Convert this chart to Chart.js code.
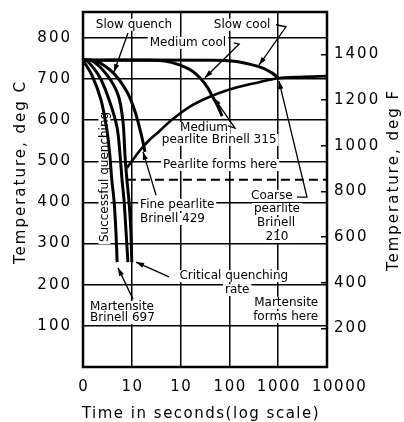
<!DOCTYPE html>
<html>
<head>
<meta charset="utf-8">
<script src="https://cdn.jsdelivr.net/npm/chart.js@4.4.1/dist/chart.umd.min.js"></script>
<style>
  html, body { margin: 0; padding: 0; background: #fff; }
  #wrap { width: 404px; height: 422px; }
</style>
</head>
<body>
<div id="wrap"><canvas id="c"></canvas></div>
<script>
'use strict';

// ── Axes ─────────────────────────────────────────────────────────────────────
const xTickLabels = ['0', '10', '10', '100', '1000', '10000'];
const xTickPos = [0, 1, 2, 3, 4, 5];
const cTicks = [100, 200, 300, 400, 500, 600, 700, 800];
const fTicks = [200, 400, 600, 800, 1000, 1200, 1400];
const cMin = 0, cMax = 863;

// ── Curves: time position (axis units) and temperature (deg C) ──────────────
const slowCoolX = [0, 2.7, 3.1, 3.45, 3.7, 3.87, 4.0];
const slowCoolT = [746, 746, 743, 735, 726, 715, 703];

const mediumCoolX = [0, 1.37, 1.68, 1.99, 2.23, 2.42, 2.56, 2.66, 2.77, 2.85];
const mediumCoolT = [746, 746, 744, 734, 720, 700, 678, 656, 632, 610];

const pearliteX = [0.90, 1.17, 1.37, 1.58, 1.78, 2.19, 2.66, 3.16, 3.63, 4.0, 4.45, 5];
const pearliteT = [484, 527, 553, 575, 597, 633, 660, 680, 693, 702, 705, 707];

const quenchAX = [0, 0.18, 0.37, 0.49, 0.55, 0.59, 0.635, 0.675, 0.70];
const quenchAT = [746, 710, 649, 576, 515, 455, 406, 328, 255];

const quenchBX = [0, 0.08, 0.35, 0.55, 0.70, 0.76, 0.80, 0.84, 0.88, 0.92];
const quenchBT = [746, 745, 703, 644, 581, 515, 455, 406, 333, 255];

const quenchCX = [0, 0.18, 0.49, 0.72, 0.82, 0.86, 0.90, 0.94, 0.98, 1.0];
const quenchCT = [746, 745, 710, 661, 596, 515, 455, 406, 333, 255];

const slowQuenchX = [0, 0.25, 0.62, 0.90, 1.07, 1.21, 1.27];
const slowQuenchT = [746, 745, 715, 669, 620, 557, 523];

const bainiteLineX = [0.9, 5];
const bainiteLineT = [455, 455];

// ── Labels (axis units / deg C) ─────────────────────────────────────────────
const notes = [
  { text: 'Slow quench', x: 1.045, t: 832, align: 'center' },
  { text: 'Medium cool', x: 2.15, t: 788, align: 'center' },
  { text: 'Slow cool', x: 3.26, t: 832, align: 'center' },
  { text: 'Medium', x: 2.48, t: 581, align: 'center' },
  { text: 'pearlite Brinell 315', x: 2.79, t: 552, align: 'center' },
  { text: 'Pearlite forms here', x: 2.81, t: 491, align: 'center' },
  { text: 'Coarse', x: 3.87, t: 416, align: 'center' },
  { text: 'pearlite', x: 3.975, t: 384, align: 'center' },
  { text: 'Brinell', x: 3.955, t: 350, align: 'center' },
  { text: '210', x: 3.975, t: 316, align: 'center' },
  { text: 'Fine pearlite', x: 1.17, t: 394, align: 'left' },
  { text: 'Brinell 429', x: 1.17, t: 360, align: 'left' },
  { text: 'Successful quenching', x: 0.44, t: 462, align: 'center', rotate: true },
  { text: 'Critical quenching', x: 3.09, t: 221, align: 'center' },
  { text: 'rate', x: 3.16, t: 187, align: 'center' },
  { text: 'Martensite', x: 0.143, t: 146, align: 'left' },
  { text: 'Brinell 697', x: 0.143, t: 119, align: 'left' },
  { text: 'Martensite', x: 4.82, t: 156, align: 'right' },
  { text: 'forms here', x: 4.82, t: 122, align: 'right' }
];

const arrows = [
  { x: [0.922, 0.635], t: [812, 717] },
  { x: [3.09, 3.2, 2.5], t: [788, 785, 703] },
  { x: [3.955, 4.16, 3.607], t: [832, 827, 734] },
  { x: [2.97, 3.115, 2.684], t: [586, 581, 654] },
  { x: [4.385, 4.59, 4.016], t: [413, 413, 695] },
  { x: [1.496, 1.23], t: [418, 523] },
  { x: [1.762, 1.086], t: [219, 255] },
  { x: [1.025, 0.717], t: [165, 241] }
];

const FONT = "'DejaVu Sans', sans-serif";
const NOTE_FONT = "12px " + FONT;

function pts(xs, ts) { return xs.map((x, i) => ({ x: x, y: ts[i] })); }

const curve = { borderColor: '#000', borderWidth: 3, pointRadius: 0, fill: false, tension: 0.3 };

const datasets = [
  Object.assign({ label: 'Slow cool', data: pts(slowCoolX, slowCoolT) }, curve),
  Object.assign({ label: 'Medium cool', data: pts(mediumCoolX, mediumCoolT) }, curve),
  Object.assign({ label: 'Pearlite start', data: pts(pearliteX, pearliteT) }, curve, { borderWidth: 2.6 }),
  Object.assign({ label: 'Quench A', data: pts(quenchAX, quenchAT) }, curve),
  Object.assign({ label: 'Quench B', data: pts(quenchBX, quenchBT) }, curve),
  Object.assign({ label: 'Quench C', data: pts(quenchCX, quenchCT) }, curve),
  Object.assign({ label: 'Slow quench', data: pts(slowQuenchX, slowQuenchT) }, curve),
  { label: 'Dashed', data: pts(bainiteLineX, bainiteLineT), borderColor: '#000', borderWidth: 2,
    borderDash: [9, 5], pointRadius: 0, tension: 0 }
];

function notePos(chart, n) {
  return { px: chart.scales.x.getPixelForValue(n.x), py: chart.scales.y.getPixelForValue(n.t) };
}

function drawArrow(c, p) {
  c.beginPath();
  c.moveTo(p[0][0], p[0][1]);
  for (let i = 1; i < p.length; i++) c.lineTo(p[i][0], p[i][1]);
  c.stroke();
  const [x1, y1] = p[p.length - 2], [x2, y2] = p[p.length - 1];
  const a = Math.atan2(y2 - y1, x2 - x1);
  const L = 8, W = 2.6;
  c.beginPath();
  c.moveTo(x2, y2);
  c.lineTo(x2 - L * Math.cos(a) + W * Math.sin(a), y2 - L * Math.sin(a) - W * Math.cos(a));
  c.lineTo(x2 - L * Math.cos(a) - W * Math.sin(a), y2 - L * Math.sin(a) + W * Math.cos(a));
  c.closePath();
  c.fill();
}

function drawRotated(c, text, x, y) {
  c.save();
  c.translate(x, y);
  c.rotate(-Math.PI / 2);
  c.textAlign = 'center';
  c.textBaseline = 'middle';
  c.fillText(text, 0, 0);
  c.restore();
}

const figure = {
  id: 'figure',
  beforeDraw(chart) {
    const c = chart.ctx;
    c.save();
    c.fillStyle = '#fff';
    c.fillRect(0, 0, chart.width, chart.height);
    c.restore();
    c.letterSpacing = '2px';
  },
  // white boxes behind labels break the grid lines, as in the print
  beforeDatasetsDraw(chart) {
    const c = chart.ctx;
    c.save();
    c.letterSpacing = '0px';
    c.font = NOTE_FONT;
    c.fillStyle = '#fff';
    notes.forEach(n => {
      const { px, py } = notePos(chart, n);
      const w = c.measureText(n.text).width + 4;
      const h = 12;
      if (n.rotate) { c.fillRect(px - h / 2, py - w / 2, h, w); return; }
      let x0 = px - w / 2;
      if (n.align === 'left') x0 = px - 2;
      if (n.align === 'right') x0 = px - w + 2;
      c.fillRect(x0, py - h / 2, w, h);
    });
    c.restore();
  },
  afterDatasetsDraw(chart) {
    const c = chart.ctx;
    const a = chart.chartArea;
    const xs = chart.scales.x;
    c.save();
    c.letterSpacing = '0px';
    c.fillStyle = '#000';
    c.strokeStyle = '#000';
    c.font = NOTE_FONT;
    c.textBaseline = 'middle';
    notes.forEach(n => {
      const { px, py } = notePos(chart, n);
      if (n.rotate) { drawRotated(c, n.text, px, py); return; }
      c.textAlign = n.align;
      c.fillText(n.text, px, py);
    });
    c.lineWidth = 1.3;
    arrows.forEach(ar => {
      drawArrow(c, ar.x.map((x, i) => [xs.getPixelForValue(x), chart.scales.y.getPixelForValue(ar.t[i])]));
    });
    // frame
    c.lineWidth = 2.5;
    c.strokeRect(a.left, a.top, a.right - a.left, a.bottom - a.top);
    // x tick labels (the last one sits right of its tick in the print)
    c.font = "15px " + FONT;
    c.letterSpacing = '1.5px';
    c.textBaseline = 'middle';
    xTickPos.forEach((v, i) => {
      const last = i === xTickPos.length - 1;
      c.textAlign = last ? 'left' : 'center';
      c.fillText(xTickLabels[i], xs.getPixelForValue(v) + (last ? -15 : 0.75), a.bottom + 20);
    });
    // axis titles
    c.letterSpacing = '2px';
    drawRotated(c, 'Temperature, deg C', 21, 172);
    drawRotated(c, 'Temperature, deg F', 394, 180);
    c.letterSpacing = '1.5px';
    c.textAlign = 'center';
    c.fillText('Time in seconds(log scale)', 201, 414);
    c.restore();
  }
};

const tickFont = { family: FONT, size: 15 };
const noEdgePad = s => { s.paddingTop = 0; s.paddingBottom = 0; s.paddingLeft = 0; s.paddingRight = 0; };

new Chart(document.getElementById('c'), {
  type: 'line',
  data: { datasets: datasets },
  options: {
    responsive: true,
    maintainAspectRatio: false,
    animation: false,
    events: [],
    layout: { padding: { top: 12 } },
    plugins: { legend: { display: false }, tooltip: { enabled: false } },
    scales: {
      x: {
        type: 'linear', min: 0, max: 5,
        afterBuildTicks: s => { s.ticks = xTickPos.map(v => ({ value: v })); },
        afterFit: s => { s.height = 55; noEdgePad(s); },
        grid: { color: '#000', lineWidth: 1.5, drawTicks: false },
        border: { display: false },
        ticks: { display: false }
      },
      y: {
        position: 'left', min: cMin, max: cMax,
        afterBuildTicks: s => { s.ticks = cTicks.map(v => ({ value: v })); },
        afterFit: s => { s.width = 83; noEdgePad(s); },
        grid: { color: '#000', lineWidth: 1.5, drawTicks: false },
        border: { display: false },
        ticks: { color: '#000', font: tickFont, padding: 11, callback: v => String(v) }
      },
      y2: {
        position: 'right', min: cMin * 1.8 + 32, max: cMax * 1.8 + 32,
        afterBuildTicks: s => { s.ticks = fTicks.map(v => ({ value: v })); },
        afterFit: s => { s.width = 77; noEdgePad(s); },
        grid: { drawOnChartArea: false, color: '#000', lineWidth: 1.5, tickLength: -6 },
        border: { display: false },
        ticks: { color: '#000', font: tickFont, padding: 13, callback: v => String(v) }
      }
    }
  },
  plugins: [figure]
});
</script>
</body>
</html>
